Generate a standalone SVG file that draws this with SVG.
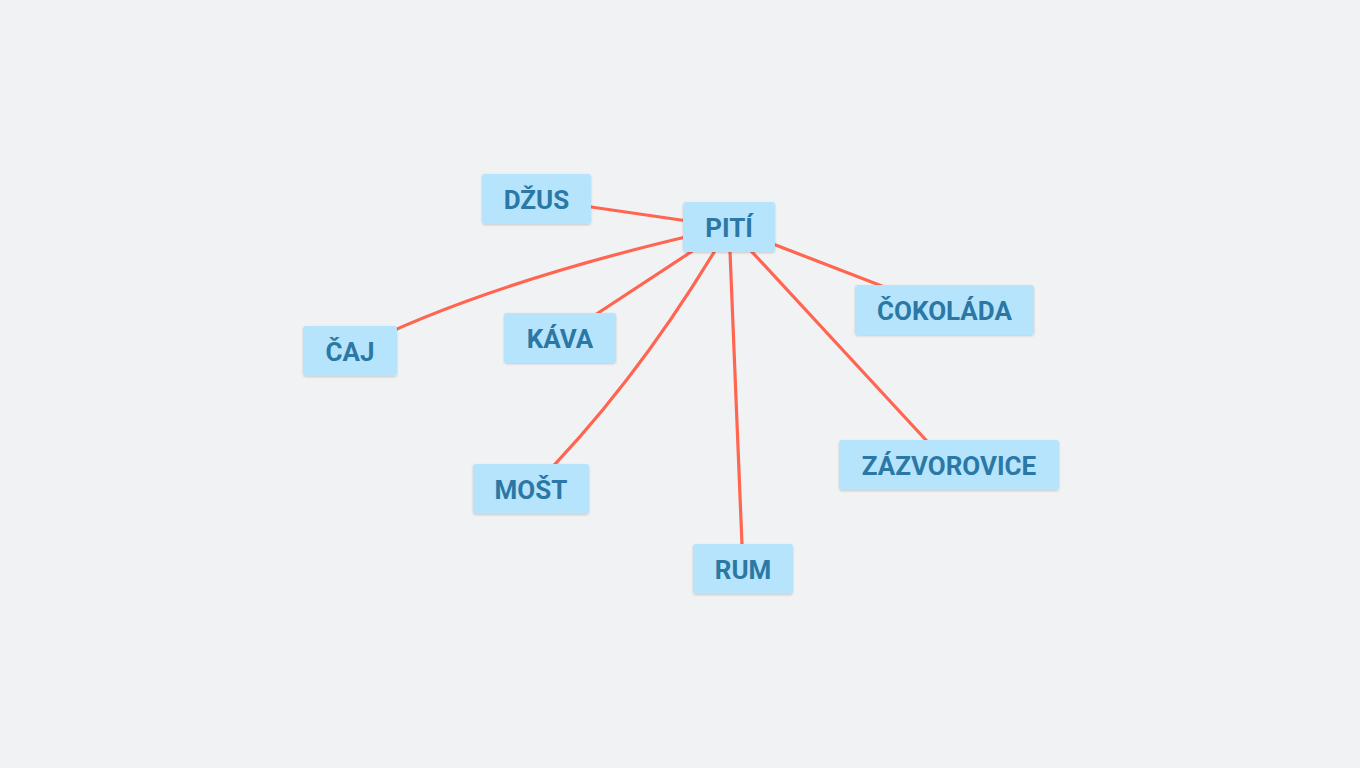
<svg xmlns="http://www.w3.org/2000/svg" width="1360" height="768" viewBox="0 0 1360 768">
<defs>
<style>
.edge{fill:none;stroke:#ff6550;stroke-width:3.2;stroke-linecap:round}
.box{fill:#b6e4fd;filter:url(#sh)}
.lbl{font-family:Roboto,"Liberation Sans",sans-serif;font-weight:bold;font-size:26px;fill:#2b78a5;text-anchor:middle}
</style>
<filter id="sh" x="-10%" y="-10%" width="120%" height="130%">
<feDropShadow dx="0" dy="1" stdDeviation="0.8" flood-color="#000" flood-opacity="0.18"/>
</filter>
</defs>
<rect width="1360" height="768" fill="#f1f2f4"/>
<g id="connectors">
<path class="edge" d="M536,199 L729,227"/>
<path class="edge" d="M350,351 Q490,280 729,227"/>
<path class="edge" d="M560,338 L729,227"/>
<path class="edge" d="M531,489 Q640,380 729,227"/>
<path class="edge" d="M743,569 L729,227"/>
<path class="edge" d="M949,465 L729,227"/>
<path class="edge" d="M944,310 L729,227"/>
</g>
<g id="piti"><rect class="box" x="683" y="202" width="92" height="50" rx="3"/><text class="lbl" x="729" y="236.5">PITÍ</text></g>
<g id="dzus"><rect class="box" x="482" y="174" width="109" height="50" rx="3"/><text class="lbl" x="536.5" y="208.5">DŽUS</text></g>
<g id="caj"><rect class="box" x="303" y="326" width="94" height="50" rx="3"/><text class="lbl" x="350" y="360.5">ČAJ</text></g>
<g id="kava"><rect class="box" x="504" y="313" width="112" height="50" rx="3"/><text class="lbl" x="560" y="347.5">KÁVA</text></g>
<g id="cokolada"><rect class="box" x="855" y="285" width="179" height="50" rx="3"/><text class="lbl" x="944.5" y="319.5">ČOKOLÁDA</text></g>
<g id="zazvorovice"><rect class="box" x="839" y="440" width="220" height="50" rx="3"/><text class="lbl" x="949" y="474.5">ZÁZVOROVICE</text></g>
<g id="most"><rect class="box" x="473" y="464" width="116" height="50" rx="3"/><text class="lbl" x="531" y="498.5">MOŠT</text></g>
<g id="rum"><rect class="box" x="693" y="544" width="100" height="50" rx="3"/><text class="lbl" x="743" y="578.5">RUM</text></g>
</svg>
